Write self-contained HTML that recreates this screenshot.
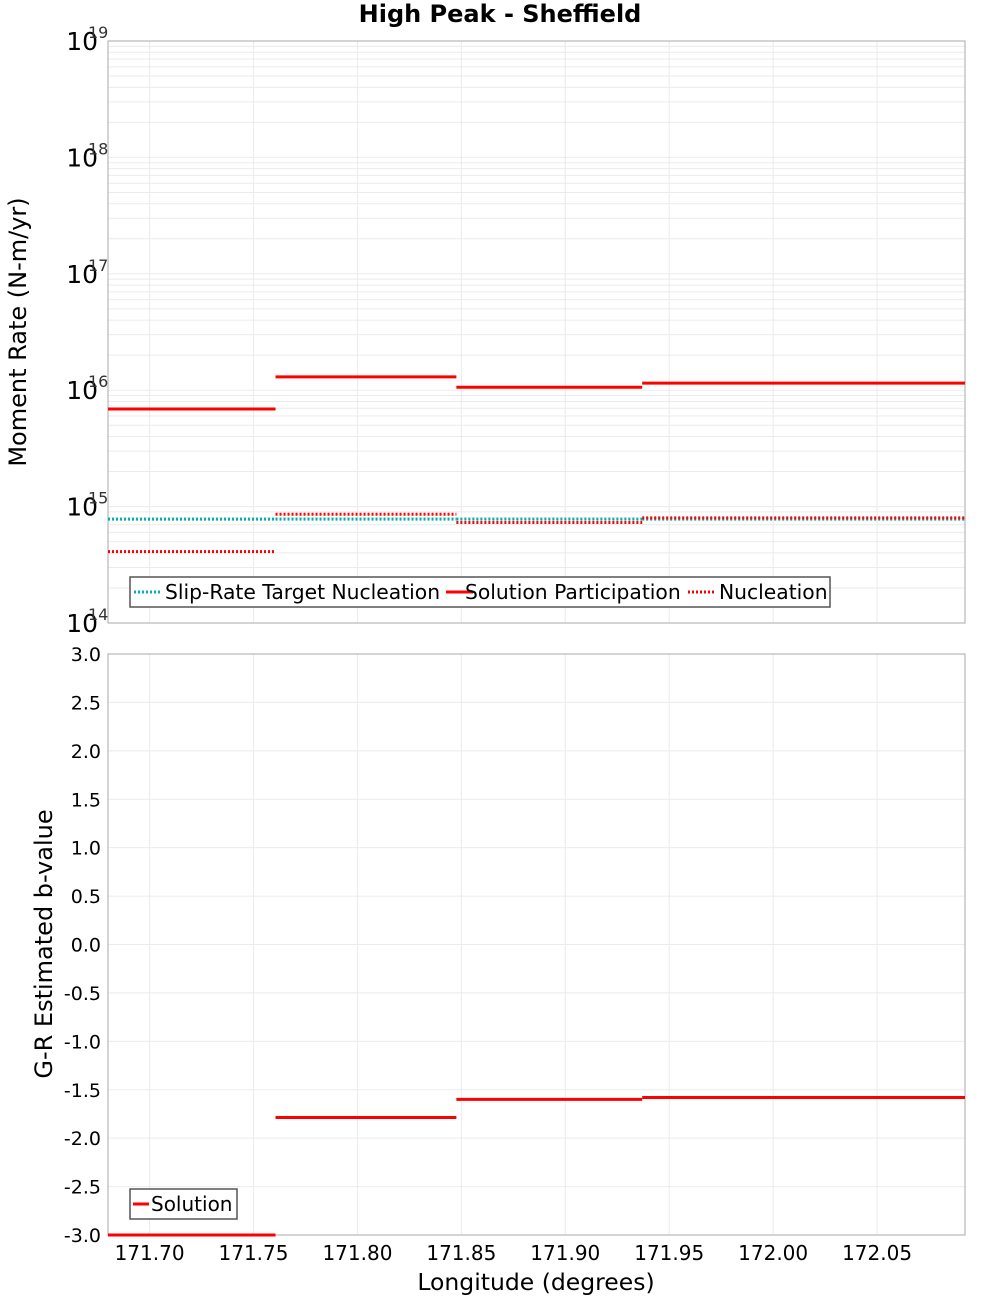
<!DOCTYPE html>
<html><head><meta charset="utf-8"><style>
body{margin:0;background:#fff;font-family:"DejaVu Sans","Liberation Sans",sans-serif}
</style></head><body>
<svg id="c" width="1000" height="1300" xmlns="http://www.w3.org/2000/svg" font-family="DejaVu Sans, Liberation Sans, sans-serif"></svg>
<script>
const bounds = [171.68, 171.7606, 171.8476, 171.937, 172.0923];
const targetNucleation = [7.8e14, 7.8e14, 7.8e14, 7.8e14];
const solutionParticipation = [6.9e15, 1.3e16, 1.06e16, 1.15e16];
const nucleation = [4.1e14, 8.6e14, 7.3e14, 8.0e14];
const bValues = [-3.0, -1.787, -1.60, -1.58];
const xTicks = [171.70, 171.75, 171.80, 171.85, 171.90, 171.95, 172.00, 172.05];
const xTickLabels = ["171.70","171.75","171.80","171.85","171.90","171.95","172.00","172.05"];
const logTicks = [14, 15, 16, 17, 18, 19];
const bTicks = [-3,-2.5,-2,-1.5,-1,-0.5,0,0.5,1,1.5,2,2.5,3];

const L=108,R=965,T1=41,B1=623,T2=654,B2=1235;
const xs=v=>L+(v-171.68)/(172.0923-171.68)*(R-L);
const ly=v=>B1-(Math.log10(v)-14)/5*(B1-T1);
const by=v=>B2-(v+3)/6*(B2-T2);
const svg=document.getElementById('c');
const NS='http://www.w3.org/2000/svg';
function mk(tag,attrs,text){const e=document.createElementNS(NS,tag);for(const k in attrs)e.setAttribute(k,attrs[k]);if(text!=null)e.textContent=text;svg.appendChild(e);return e;}

let e;
e=mk('rect',{x:L,y:T1,width:R-L,height:B1-T1,fill:'#fff',stroke:'none'});


e=mk('rect',{x:L,y:T2,width:R-L,height:B2-T2,fill:'#fff',stroke:'none'});



for(let d=14;d<19;d++){for(let m=1;m<10;m++){const y=ly(m*Math.pow(10,d));
e=mk('line',{x1:L,x2:R,y1:y,y2:y,stroke:'#ebebeb','stroke-width':1});

}}
for(const t of xTicks){const x=xs(t);
e=mk('line',{x1:x,x2:x,y1:T1,y2:B1,stroke:'#ebebeb'});


e=mk('line',{x1:x,x2:x,y1:T2,y2:B2,stroke:'#ebebeb'});

}
for(const t of bTicks){const y=by(t);
e=mk('line',{x1:L,x2:R,y1:y,y2:y,stroke:'#ebebeb'});

}

e=mk('rect',{x:L,y:T1,width:R-L,height:B1-T1,fill:'none',stroke:'#aaa'});


e=mk('rect',{x:L,y:T2,width:R-L,height:B2-T2,fill:'none',stroke:'#aaa'});



function seg(arr,fy,color,dash,name){for(let i=0;i<arr.length;i++){const y=fy(arr[i]);
const a={x1:xs(bounds[i]),x2:xs(bounds[i+1]),y1:y,y2:y,stroke:color,'stroke-width':3};
if(dash)a['stroke-dasharray']='2,2';
e=mk('line',a);

}}
seg(targetNucleation,ly,'#00b0b0',true,'slip-rate-target-nucleation');
seg(nucleation,ly,'#ff0000',true,'nucleation');
seg(solutionParticipation,ly,'#ff0000',false,'solution-participation');
seg(bValues,by,'#ff0000',false,'solution-b-value');

for(const t of logTicks){const y=ly(Math.pow(10,t));
e=mk('text',{x:98,y:y+9,'text-anchor':'end','font-size':25},'10');


e=mk('text',{x:88,y:y-3,'font-size':16,fill:'#333'},String(t));

}
for(const t of bTicks){const y=by(t);
e=mk('text',{x:101,y:y+7,'text-anchor':'end','font-size':19},t.toFixed(1));

}
xTicks.forEach((t,i)=>{e=mk('text',{x:xs(t),y:1260,'text-anchor':'middle','font-size':20},xTickLabels[i]);

});

e=mk('text',{x:500,y:22,'text-anchor':'middle','font-size':24,'font-weight':'bold'},'High Peak - Sheffield');


e=mk('text',{x:536,y:1290,'text-anchor':'middle','font-size':23.5},'Longitude (degrees)');


e=mk('text',{x:26,y:332,'text-anchor':'middle','font-size':24,transform:'rotate(-90 26 332)'},'Moment Rate (N-m/yr)');


e=mk('text',{x:52,y:944,'text-anchor':'middle','font-size':24,transform:'rotate(-90 52 944)'},'G-R Estimated b-value');



e=mk('rect',{x:130,y:577,width:700,height:30,fill:'#fff',stroke:'#555','stroke-width':1.5});


const leg=[['Slip-Rate Target Nucleation','#00b0b0',true,134,165],['Solution Participation','#ff0000',false,446,465],['Nucleation','#ff0000',true,688,719]];
for(const [lab,c,d,x0,tx] of leg){
const a={x1:x0,x2:x0+27,y1:592,y2:592,stroke:c,'stroke-width':3};if(d)a['stroke-dasharray']='2,2';
e=mk('line',a);


e=mk('text',{x:tx,y:599,'font-size':20.3},lab);

}
e=mk('rect',{x:130,y:1189,width:107,height:30,fill:'#fff',stroke:'#555','stroke-width':1.5});


e=mk('line',{x1:133,x2:149,y1:1204,y2:1204,stroke:'#ff0000','stroke-width':3});


e=mk('text',{x:151,y:1211,'font-size':20},'Solution');


</script>
</body></html>
